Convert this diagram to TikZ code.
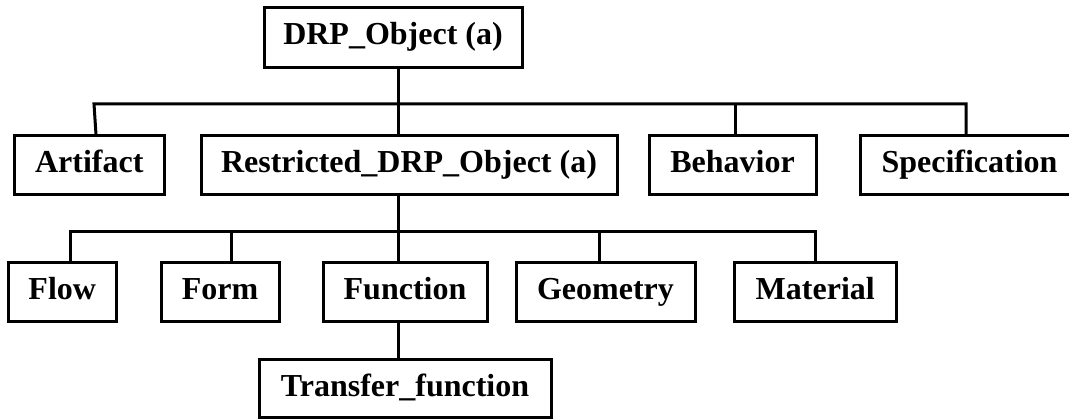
\documentclass[tikz,border=0pt]{standalone}
\usepackage{fontspec}
\setmainfont{Liberation Serif}
\begin{document}
\begin{tikzpicture}[x=1pt,y=-1pt,
  box/.style={draw, line width=3pt, inner sep=0pt, minimum height=59pt,
    text height=22pt, text depth=7pt,
    font=\bfseries\fontsize{32}{32}\selectfont},
  link/.style={line width=3pt, line join=miter}]
\useasboundingbox (0,0) rectangle (1069,419);

% class boxes
\node[box, minimum width=258pt, minimum height=60pt] (top) at (393,37.5) {DRP\_Object (a)};

\node[box, minimum width=150.5pt] (art)  at (89.25,165.5) {Artifact};
\node[box, minimum width=416pt]   (rst)  at (409,165.5)   {Restricted\_DRP\_Object (a)};
\node[box, minimum width=167pt]   (beh)  at (732.5,165.5) {Behavior};
\node[box, minimum width=219pt]   (spec) at (969.5,165.5) {Specification};

\node[box, minimum width=108.5pt] (flow) at (62.25,292.5) {Flow};
\node[box, minimum width=118pt]   (form) at (220,292.5)   {Form};
\node[box, minimum width=164pt]   (fun)  at (405,292.5)   {Function};
\node[box, minimum width=179pt]   (geo)  at (605.5,292.5) {Geometry};
\node[box, minimum width=161.5pt] (mat)  at (815.25,292.5) {Material};

\node[box, minimum width=292pt, minimum height=58pt] (tf) at (405,389) {Transfer\_function};

% trunk and bus positions
\coordinate (spine) at (398,0);
\coordinate (busA) at (0,104);
\coordinate (busB) at (0,232);
\coordinate (artTop) at (94,104);
\coordinate (artFoot) at (96,0);
\coordinate (behX) at (735,0);
\coordinate (specX) at (966,0);
\coordinate (flowX) at (70,0);
\coordinate (formX) at (231,0);
\coordinate (geoX) at (599,0);
\coordinate (matX) at (815,0);

% first level
\draw[link] (art.north -| artFoot) -- (artTop) -- (busA -| specX) -- (spec.north -| specX);
\draw[link] (top.south -| spine) -- (rst.north -| spine);
\draw[link] (busA -| behX) -- (beh.north -| behX);

% second level
\draw[link] (flow.north -| flowX) -- (busB -| flowX) -- (busB -| matX) -- (mat.north -| matX);
\draw[link] (rst.south -| spine) -- (fun.north -| spine);
\draw[link] (busB -| formX) -- (form.north -| formX);
\draw[link] (busB -| geoX) -- (geo.north -| geoX);

% third level
\draw[link] (fun.south -| spine) -- (tf.north -| spine);
\end{tikzpicture}
\end{document}
